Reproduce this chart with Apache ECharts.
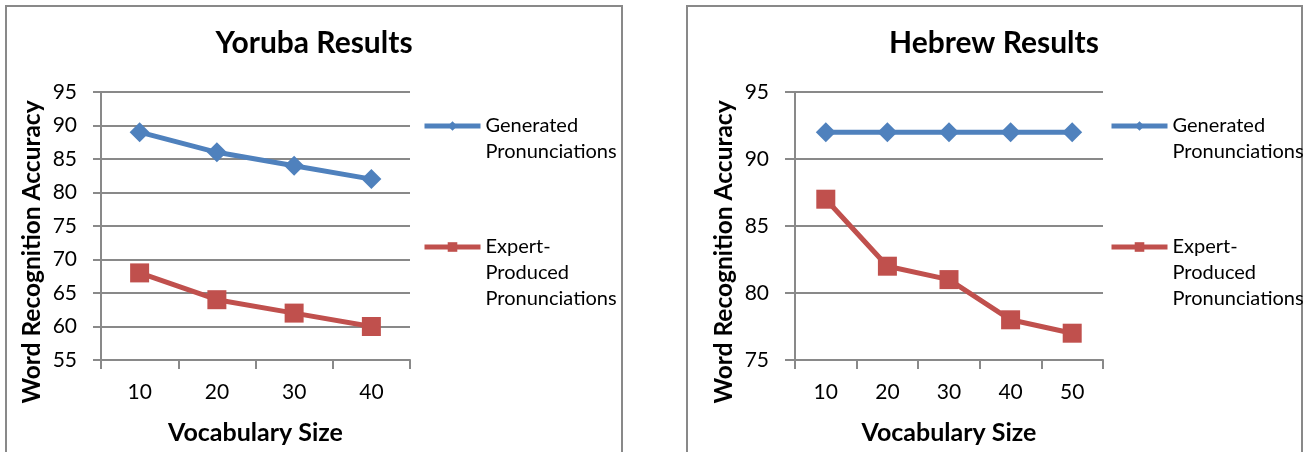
<!DOCTYPE html>
<html>
<head>
<meta charset="utf-8">
<script src="https://cdn.jsdelivr.net/npm/echarts@6/dist/echarts.min.js"></script>
<style>
  html, body { margin: 0; padding: 0; background: #fff; }
  #chart { width: 1307px; height: 452px; }
</style>
</head>
<body>
<div id="chart"></div>
<script>
// Word recognition accuracy by vocabulary size
const yorubaSizes = ['10', '20', '30', '40'];
const yorubaGenerated = [89, 86, 84, 82];
const yorubaExpert = [68, 64, 62, 60];

const hebrewSizes = ['10', '20', '30', '40', '50'];
const hebrewGenerated = [92, 92, 92, 92, 92];
const hebrewExpert = [87, 82, 81, 78, 77];

const seriesNames = ['Generated Pronunciations', 'Expert-Produced Pronunciations'];
const legendLines = {
  'Generated Pronunciations': ['Generated', 'Pronunciations'],
  'Expert-Produced Pronunciations': ['Expert-', 'Produced', 'Pronunciations']
};
const chartTitles = ['Yoruba Results', 'Hebrew Results'];
const xTitle = 'Vocabulary Size';
const yTitle = 'Word Recognition Accuracy';

const FONT = 'Lato';
const GRID_GRAY = '#898989';
const BLUE = '#4F81BD';
const RED = '#C0504D';

// legend text hangs from the icon: blank lines above keep the first line level with it
function legendText(name) {
  const lines = legendLines[name];
  return '\n'.repeat(lines.length - 1) + lines.join('\n');
}

// two panels: plot box geometry and y-range
const panels = [
  { left: 101, width: 309, frameX: 6, frameW: 616, titleX: 314, legendX: 422,
    yMin: 55, yMax: 95, yTick: 8, yMargin: 24, yGap: 56,
    cats: yorubaSizes, gen: yorubaGenerated, exp: yorubaExpert, title: chartTitles[0] },
  { left: 795, width: 308, frameX: 687, frameW: 615, titleX: 994, legendX: 1109,
    yMin: 75, yMax: 95, yTick: 10, yMargin: 26, yGap: 58,
    cats: hebrewSizes, gen: hebrewGenerated, exp: hebrewExpert, title: chartTitles[1] }
];

const axisLineStyle = { color: GRID_GRAY, width: 2 };

const option = {
  animation: false,
  backgroundColor: '#fff',
  graphic: panels.map(p => ({
    type: 'rect',
    shape: { x: p.frameX, y: 6, width: p.frameW, height: 470 },
    style: { fill: 'none', stroke: GRID_GRAY, lineWidth: 2 },
    silent: true
  })),
  title: panels.map(p => ({
    text: p.title,
    left: p.titleX,
    top: 28,
    padding: 0,
    textAlign: 'center',
    textStyle: { fontFamily: FONT, fontWeight: 'bold', fontSize: 30, color: '#000' }
  })),
  legend: panels.map(p => ({
    data: seriesNames,
    orient: 'vertical',
    left: p.legendX,
    top: 87,
    padding: 0,
    itemGap: 17,
    itemWidth: 56,
    itemHeight: 12,
    selectedMode: false,
    lineStyle: { width: 5 },
    formatter: legendText,
    textStyle: { fontFamily: FONT, fontSize: 20, lineHeight: 26, color: '#000' }
  })),
  grid: panels.map(p => ({
    left: p.left, top: 92, width: p.width, height: 268,
    containLabel: false, outerBoundsMode: 'none'
  })),
  xAxis: panels.map((p, i) => ({
    type: 'category',
    gridIndex: i,
    data: p.cats,
    boundaryGap: true,
    axisLine: { show: true, lineStyle: axisLineStyle },
    axisTick: { show: true, length: 9, inside: false, lineStyle: axisLineStyle },
    axisLabel: { fontFamily: FONT, fontSize: 21, color: '#000', margin: 22 },
    splitLine: { show: false },
    name: xTitle,
    nameLocation: 'middle',
    nameGap: 60,
    nameMoveOverlap: false,
    nameTextStyle: { fontFamily: FONT, fontWeight: 'bold', fontSize: 25, color: '#000' }
  })),
  yAxis: panels.map((p, i) => ({
    type: 'value',
    gridIndex: i,
    min: p.yMin,
    max: p.yMax,
    interval: 5,
    axisLine: { show: true, lineStyle: axisLineStyle },
    axisTick: { show: true, length: p.yTick, inside: false, lineStyle: axisLineStyle },
    axisLabel: { fontFamily: FONT, fontSize: 21, color: '#000', margin: p.yMargin },
    splitLine: { show: true, lineStyle: axisLineStyle },
    name: yTitle,
    nameLocation: 'middle',
    nameRotate: 90,
    nameGap: p.yGap,
    nameMoveOverlap: false,
    nameTextStyle: { fontFamily: FONT, fontWeight: 'bold', fontSize: 24.5, color: '#000', padding: [0, 52, 0, 0] }
  })),
  series: panels.flatMap((p, i) => [
    {
      name: seriesNames[0], type: 'line', xAxisIndex: i, yAxisIndex: i,
      data: p.gen,
      symbol: 'diamond', symbolSize: 20,
      lineStyle: { color: BLUE, width: 5 },
      itemStyle: { color: BLUE, borderWidth: 0 },
      emphasis: { disabled: true }
    },
    {
      name: seriesNames[1], type: 'line', xAxisIndex: i, yAxisIndex: i,
      data: p.exp,
      symbol: 'rect', symbolSize: 19,
      lineStyle: { color: RED, width: 5 },
      itemStyle: { color: RED, borderWidth: 0 },
      emphasis: { disabled: true }
    }
  ])
};

const chart = echarts.init(document.getElementById('chart'));
chart.setOption(option);
</script>
</body>
</html>
